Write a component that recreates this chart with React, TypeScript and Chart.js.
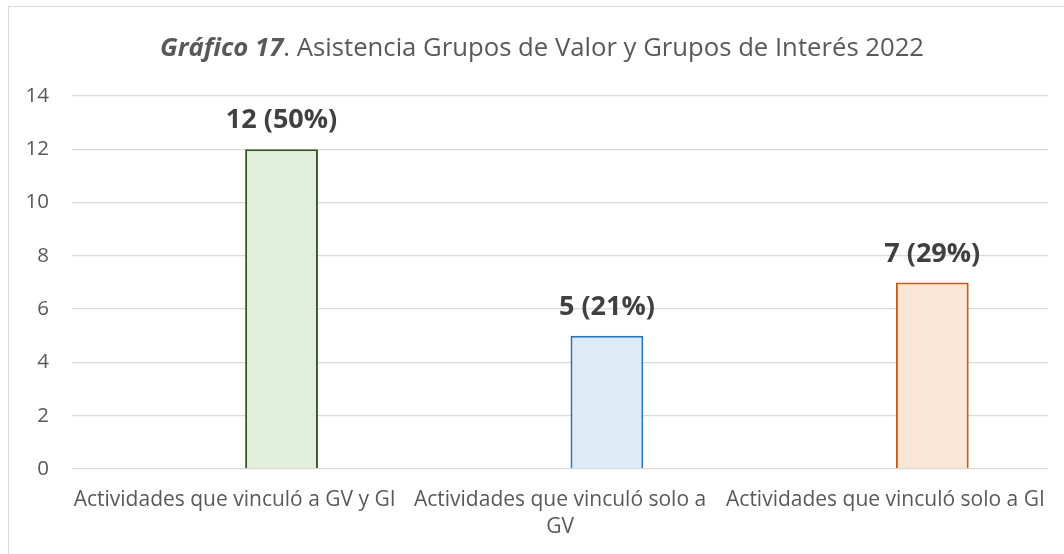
import React, { useEffect, useRef } from "react";
import { Chart, registerables } from "chart.js";

Chart.register(...registerables);

const categories: string[][] = [
  ["Actividades que vinculó a GV y GI"],
  ["Actividades que vinculó solo a", "GV"],
  ["Actividades que vinculó solo a GI"],
];
const values: number[] = [12, 5, 7];
const fillColors = ["#E2EFDA", "#DDEBF7", "#FBE5D6"];
const borderColors = ["#375623", "#2E75B6", "#C55A11"];
const yMin = 0;
const yMax = 14;
const yStep = 2;
const titleBold = "Gráfico 17";
const titleRest = ". Asistencia Grupos de Valor y Grupos de Interés 2022";

const FONT = "'Open Sans', 'Liberation Sans', sans-serif";

export default function App() {
  const ref = useRef<HTMLCanvasElement | null>(null);

  useEffect(() => {
    if (!ref.current) return;
    const total = values.reduce((a, b) => a + b, 0);
    const labelTexts = values.map((v) => `${v} (${Math.round((v / total) * 100)}%)`);

    const titlePlugin = {
      id: "titlePlugin",
      afterDraw(chart: any) {
        const ctx = chart.ctx;
        ctx.save();
        ctx.fillStyle = "#595959";
        ctx.textBaseline = "alphabetic";
        ctx.font = `italic bold 25.7px ${FONT}`;
        const w1 = ctx.measureText(titleBold).width;
        ctx.font = `25.7px ${FONT}`;
        const w2 = ctx.measureText(titleRest).width;
        const cx = 542;
        const x0 = cx - (w1 + w2) / 2;
        ctx.textAlign = "left";
        ctx.font = `italic bold 25.7px ${FONT}`;
        ctx.fillText(titleBold, x0, 56);
        ctx.font = `25.7px ${FONT}`;
        ctx.fillText(titleRest, x0 + w1, 56);
        ctx.restore();
      },
    };

    const valueLabelPlugin = {
      id: "valueLabelPlugin",
      afterDatasetsDraw(chart: any) {
        const ctx = chart.ctx;
        const meta = chart.getDatasetMeta(1);
        ctx.save();
        ctx.fillStyle = "#404040";
        ctx.font = `bold 27px ${FONT}`;
        ctx.textAlign = "center";
        ctx.textBaseline = "alphabetic";
        meta.data.forEach((el: any, i: number) => {
          ctx.fillText(labelTexts[i], el.x, el.y - 21);
        });
        ctx.restore();
      },
    };

    const chart = new Chart(ref.current, {
      type: "bar",
      data: {
        labels: categories,
        datasets: [
          {
            label: "spacer",
            data: categories.map(() => null),
            backgroundColor: "rgba(0,0,0,0)",
          },
          {
            label: "Asistencia",
            data: values,
            backgroundColor: fillColors,
            borderColor: borderColors,
            borderWidth: 2,
            borderSkipped: "bottom",
          } as any,
        ],
      },
      options: {
        animation: false,
        responsive: false,
        maintainAspectRatio: false,
        layout: { padding: { top: 96, right: 13, left: 0, bottom: 0 } },
        datasets: {
          bar: { categoryPercentage: 0.576, barPercentage: 0.777 },
        },
        plugins: {
          legend: { display: false },
          title: { display: false },
          tooltip: { enabled: false },
        },
        scales: {
          x: {
            grid: { display: false, drawTicks: false },
            border: { display: false },
            ticks: {
              color: "#595959",
              font: { family: FONT, size: 21, lineHeight: 1.3 },
              padding: 17,
              maxRotation: 0,
              autoSkip: false,
            },
            afterFit(scale: any) {
              scale.height = 85;
            },
          },
          y: {
            min: yMin,
            max: yMax,
            grid: { color: "#D9D9D9", lineWidth: 1.3, drawTicks: false },
            border: { display: false },
            ticks: {
              stepSize: yStep,
              color: "#595959",
              font: { family: FONT, size: 20.5 },
              padding: 23,
            },
            afterFit(scale: any) {
              scale.width = 72;
            },
          },
        },
      },
      plugins: [titlePlugin, valueLabelPlugin],
    });
    return () => chart.destroy();
  }, []);

  return (
    <div style={{ position: "fixed", left: 0, top: 0, width: 1064, height: 554, background: "#ffffff", overflow: "hidden" }}>
      <div
        style={{
          position: "absolute",
          left: 8,
          top: 6,
          width: 1100,
          height: 600,
          border: "1px solid #D9D9D9",
          boxSizing: "border-box",
        }}
      />
      <canvas ref={ref} width={1064} height={554} style={{ position: "absolute", left: 0, top: 0, width: 1064, height: 554 }} />
    </div>
  );
}
